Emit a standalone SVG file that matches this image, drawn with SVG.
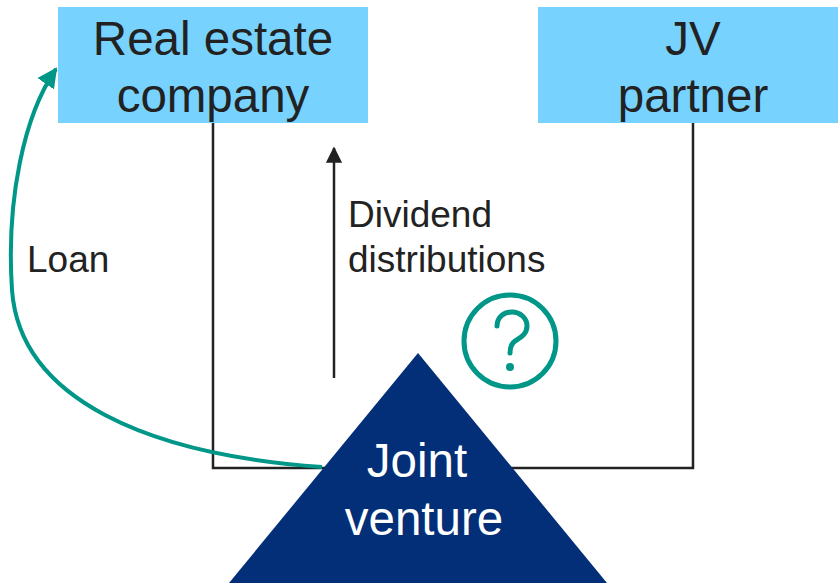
<svg xmlns="http://www.w3.org/2000/svg" width="838" height="583" viewBox="0 0 838 583">
  <style>
    .box { fill: #78D2FE; }
    .lbl { font-family: "Liberation Sans", Arial, sans-serif; fill: #222222; }
    .big { font-size: 47.5px; text-anchor: middle; }
    .small { font-size: 37px; }
    .inv { fill: #FFFFFF; }
    .link { fill: none; stroke: #222222; stroke-width: 2.5; }
    .teal { fill: none; stroke: #009688; stroke-width: 4; }
  </style>
  <defs>
    <marker id="arrowDark" viewBox="0 0 10 10" refX="9" refY="5" markerWidth="6.5" markerHeight="6.5" markerUnits="strokeWidth" orient="auto">
      <path d="M0,0 L10,5 L0,10 z" fill="#222222"/>
    </marker>
    <marker id="arrowTeal" viewBox="0 0 10 10" refX="9" refY="5" markerWidth="5" markerHeight="5" markerUnits="strokeWidth" orient="auto">
      <path d="M0,0 L10,5 L0,10 z" fill="#009688"/>
    </marker>
  </defs>

  <!-- connectors -->
  <g id="connectors">
    <path class="link" d="M213,123 V468 H330"/>
    <path class="link" d="M693,123 V468 H500"/>
    <path class="link" d="M334,378 V148" marker-end="url(#arrowDark)"/>
    <path class="teal" d="M322,467 C150,455 20,400 12,290 C6,200 24,115 56,69" marker-end="url(#arrowTeal)"/>
    <text class="lbl small" x="348" y="227">Dividend</text>
    <text class="lbl small" x="348" y="272">distributions</text>
    <text class="lbl small" x="27" y="272">Loan</text>
  </g>

  <g id="real-estate-company">
    <rect class="box" x="58" y="7" width="310" height="116"/>
    <text class="lbl big" x="213" y="55">Real estate</text>
    <text class="lbl big" x="213" y="112">company</text>
  </g>

  <g id="jv-partner">
    <rect class="box" x="538" y="7" width="310" height="116"/>
    <text class="lbl big" x="693" y="55">JV</text>
    <text class="lbl big" x="693" y="112">partner</text>
  </g>

  <g id="question">
    <circle cx="510" cy="341" r="46" fill="none" stroke="#009688" stroke-width="5"/>
    <path d="M497,326 C497,317 504,312 512,312 C520,312 527,318 527,326 C527,334 521,337 515,341 C511,344 510,347 510,353" fill="none" stroke="#009688" stroke-width="5" stroke-linecap="round"/>
    <circle cx="510" cy="367" r="4" fill="#009688"/>
  </g>

  <g id="joint-venture">
    <polygon points="418,353 229,583 607,583" fill="#022F77"/>
    <text class="lbl big inv" x="417" y="477">Joint</text>
    <text class="lbl big inv" x="424" y="535">venture</text>
  </g>
</svg>
